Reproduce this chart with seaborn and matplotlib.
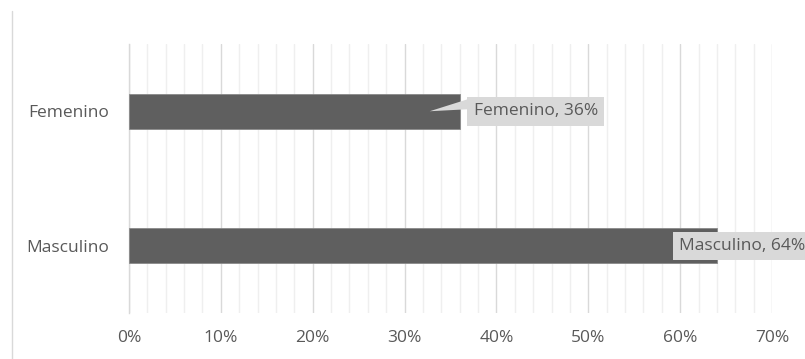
import matplotlib
matplotlib.use("Agg")
import matplotlib.pyplot as plt
import seaborn as sns
import pandas as pd
import numpy as np
from matplotlib.ticker import MultipleLocator, FuncFormatter, FixedLocator, NullFormatter
from matplotlib.patches import Polygon
from matplotlib.lines import Line2D

categories = ["Femenino", "Masculino"]
values = [0.36, 0.64]
x_ticks = [0, 0.1, 0.2, 0.3, 0.4, 0.5, 0.6, 0.7]

sns.set_theme(style="white")
plt.rcParams["font.family"] = ["Open Sans", "DejaVu Sans"]

df = pd.DataFrame({"cat": categories, "val": values})

fig = plt.figure(figsize=(8.05, 3.59), dpi=100)
W, H = 805, 359
ax = fig.add_axes([129 / W, 1 - 313 / H, (772 - 129) / W, (313 - 44) / H])

sns.barplot(data=df, x="val", y="cat", orient="h", color="#5f5f5f",
            width=0.26, edgecolor="#8a8a8a", linewidth=0.6, ax=ax,
            saturation=1, zorder=3)

ax.set_xlim(0, 0.70)
ax.set_ylim(1.5, -0.5)
ax.set_xlabel("")
ax.set_ylabel("")

FS = 12.5

ax.xaxis.set_major_locator(FixedLocator(x_ticks))
ax.xaxis.set_minor_locator(MultipleLocator(0.02))
ax.xaxis.set_major_formatter(FuncFormatter(lambda v, p: f"{v*100:.0f}%"))
ax.grid(True, which="major", axis="x", color="#d9d9d9", linewidth=1.0, zorder=0)
ax.grid(True, which="minor", axis="x", color="#efefef", linewidth=1.0, zorder=0)
ax.set_axisbelow(True)

ax.tick_params(axis="x", which="both", length=0, pad=12, labelsize=FS, labelcolor="#595959")
ax.tick_params(axis="y", which="major", length=0, pad=14, labelsize=FS, labelcolor="#595959")
ax.yaxis.set_minor_locator(FixedLocator([-0.5, 0.5, 1.5]))
ax.yaxis.set_minor_formatter(NullFormatter())
ax.tick_params(axis="y", which="minor", length=6, width=1, color="#d9d9d9", direction="out")

for s in ["top", "right", "bottom"]:
    ax.spines[s].set_visible(False)
ax.spines["left"].set_color("#d9d9d9")
ax.spines["left"].set_linewidth(1)

# outer chart border (left edge visible)
fig.add_artist(Line2D([12 / W, 12 / W], [0, 1 - 11 / H], color="#d9d9d9", linewidth=1))

# data labels
offsets = [7, -45]
for i, (c, v) in enumerate(zip(categories, values)):
    ax.annotate(f"{c}, {v*100:.0f}%", xy=(v, i), xytext=(offsets[i] + 7, 0),
                textcoords="offset pixels", ha="left", va="center",
                fontsize=FS, color="#595959", zorder=6, annotation_clip=False,
                bbox=dict(boxstyle="square,pad=0.36", facecolor="#d9d9d9", edgecolor="none"))

# callout pointer for the first label
fig.canvas.draw()
px, py = ax.transData.transform((values[0], 0))
tip = (px - 30, py)
verts = [tip, (px + 8, py + 12), (px + 8, py + 2)]
fig.add_artist(Polygon(verts, closed=True, transform=None, facecolor="#d9d9d9",
                       edgecolor="none", zorder=5))

fig.savefig("out.png", dpi=100)
